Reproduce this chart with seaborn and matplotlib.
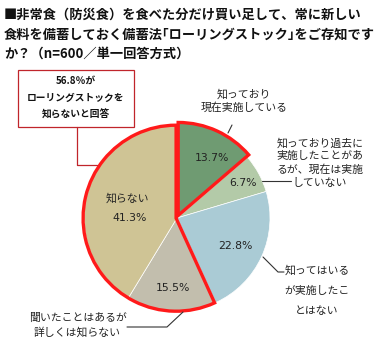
import matplotlib
matplotlib.use("Agg")
import matplotlib.pyplot as plt
from matplotlib.patches import Rectangle
from matplotlib.lines import Line2D
import seaborn as sns

sns.set_theme(style="white")
plt.rcParams['font.family'] = ['Noto Sans CJK JP', 'DejaVu Sans']

# ---- data ----
categories = ["知っており現在実施している",
              "知っており過去に実施したことがあるが、現在は実施していない",
              "知ってはいるが実施したことはない",
              "聞いたことはあるが詳しくは知らない",
              "知らない"]
values = [13.7, 6.7, 22.8, 15.5, 41.3]
pct_labels = ["13.7%", "6.7%", "22.8%", "15.5%", "41.3%"]
colors = ["#6f9b72", "#b3caa8", "#aacbd5", "#c2bead", "#cfc495"]
title_lines = ["■非常食（防災食）を食べた分だけ買い足して、常に新しい",
               "食料を備蓄しておく備蓄法｢ローリングストック｣をご存知です",
               "か？（n=600／単一回答方式）"]
box_lines = ["56.8％が", "ローリングストックを", "知らないと回答"]

W, H = 378, 347
fig = plt.figure(figsize=(W / 100, H / 100), dpi=100)
fig.patch.set_facecolor("white")

def fx(x):
    return x / W

def fy(y):
    return 1 - y / H

# pie axes: center (177,218) px, radius 93 px
cx, cy, r = 177, 218, 93
ax = fig.add_axes([fx(cx - r), fy(cy + r), 2 * r / W, 2 * r / H])
ax.pie(values, colors=colors, startangle=90, counterclock=False,
       explode=[0.03, 0, 0, 0, 0],
       wedgeprops=dict(edgecolor="white", linewidth=0.5))
# red outlines: first slice and the "unknown" group
groups = [values[0], values[1] + values[2], values[3] + values[4]]
wedges, _ = ax.pie(groups, colors=["none"] * 3, startangle=90, counterclock=False,
                   explode=[0.03, 0, 0.01],
                   wedgeprops=dict(edgecolor="#ff1a1a", linewidth=2.4, fill=False))
wedges[1].set_edgecolor("none")
ax.set_xlim(-1, 1)
ax.set_ylim(-1, 1)
ax.set_aspect("equal")
ax.axis("off")

# title
for i, t in enumerate(title_lines):
    fig.text(fx(4), fy(15 + 19.5 * i), t, fontsize=9.5, fontweight="bold",
             ha="left", va="center", color="#111111")

# box
fig.add_artist(Rectangle((fx(18), fy(127)), (134 - 18) / W, (127 - 70) / H,
                         transform=fig.transFigure, fill=False,
                         edgecolor="#c0252b", linewidth=0.9))
for i, t in enumerate(box_lines):
    fig.text(fx(76), fy(81 + 17 * i), t, fontsize=7.0, fontweight="bold",
             ha="center", va="center", color="#111111")
fig.add_artist(Line2D([fx(77), fx(77), fx(97)], [fy(127), fy(165), fy(165)],
                      transform=fig.transFigure, color="#c0252b", linewidth=0.9))

txtc = "#222222"
lfs = 7.8
# percent labels
pct_pos = [(212, 158), (243, 183), (235, 246), (173, 288), (130, 218)]
for (x, y), t in zip(pct_pos, pct_labels):
    fig.text(fx(x), fy(y), t, fontsize=7.8, ha="center", va="center",
             color=txtc, family="DejaVu Sans")
fig.text(fx(127), fy(198), "知らない", fontsize=lfs, ha="center", va="center", color=txtc)

# category labels
fig.text(fx(244), fy(94), "知っており", fontsize=lfs, ha="center", va="center", color=txtc)
fig.text(fx(244), fy(108), "現在実施している", fontsize=lfs, ha="center", va="center", color=txtc)
fig.add_artist(Line2D([fx(232), fx(228)], [fy(125), fy(133)],
                      transform=fig.transFigure, color="#333333", linewidth=0.8))

for i, t in enumerate(["知っており過去に", "実施したことがあ", "るが、現在は実施", "していない"]):
    fig.text(fx(320), fy(143 + 13.3 * i), t, fontsize=lfs, ha="center", va="center", color=txtc)
fig.add_artist(Line2D([fx(262), fx(291)], [fy(181), fy(181)],
                      transform=fig.transFigure, color="#333333", linewidth=0.8))

for i, t in enumerate(["知ってはいる", "が実施したこ", "とはない"]):
    fig.text(fx(317), fy(270 + 20.5 * i), t, fontsize=lfs, ha="center", va="center", color=txtc)
fig.add_artist(Line2D([fx(263), fx(278), fx(284)], [fy(257), fy(272), fy(272)],
                      transform=fig.transFigure, color="#333333", linewidth=0.8))

fig.text(fx(78), fy(318), "聞いたことはあるが", fontsize=lfs, ha="center", va="center", color=txtc)
fig.text(fx(77), fy(332), "詳しくは知らない", fontsize=lfs, ha="center", va="center", color=txtc)
fig.add_artist(Line2D([fx(183), fx(167), fx(127)], [fy(312), fy(327), fy(327)],
                      transform=fig.transFigure, color="#333333", linewidth=0.8))

fig.savefig("out.png", dpi=100, facecolor="white")
